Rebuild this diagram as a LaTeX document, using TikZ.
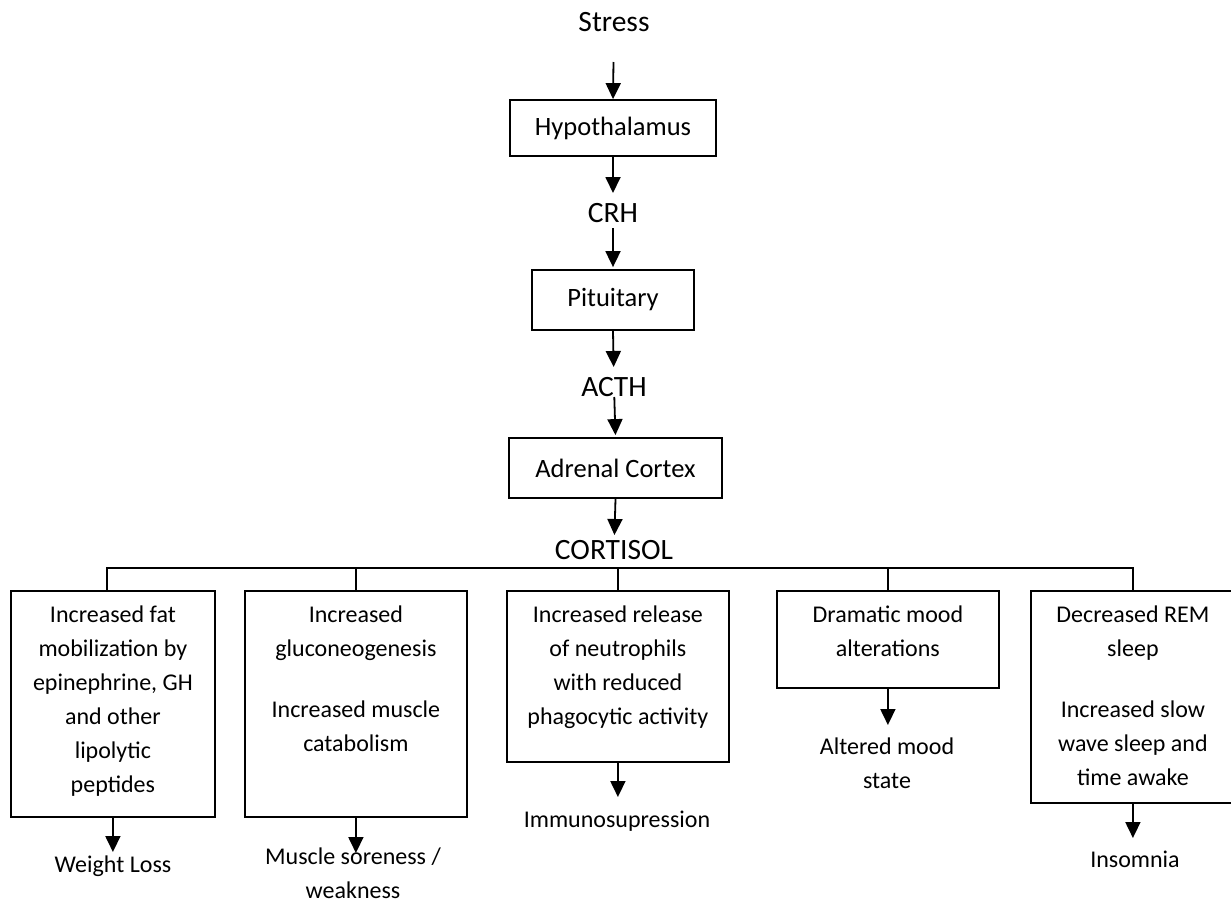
\documentclass[tikz,border=0pt]{standalone}
\usepackage{fontspec}
\setmainfont{Carlito}
\usetikzlibrary{arrows.meta}
\begin{document}
\begin{tikzpicture}[x=1pt,y=-1pt,
  lbl/.style={inner sep=0pt, font=\fontsize{29.5pt}{34pt}\selectfont},
  boxlbl/.style={draw, line width=1.8pt, inner sep=0pt, font=\fontsize{26.5pt}{32pt}\selectfont},
  box/.style={draw, line width=1.8pt, inner sep=0pt, anchor=north west},
  btxt/.style={inner sep=0pt, anchor=north, align=center, font=\fontsize{24pt}{34pt}\selectfont},
  res/.style={inner sep=0pt, align=center, font=\fontsize{24pt}{34pt}\selectfont},
  arr/.style={line width=1.8pt, -{Triangle[length=16pt,width=15pt]}},
  conn/.style={line width=1.8pt}]
\useasboundingbox (0,0) rectangle (1231,903);

% main chain
\node[lbl] (stress) at (614,22) {Stress};
\node[boxlbl, minimum width=206pt, minimum height=56pt] (hyp) at (613,128) {Hypothalamus};
\node[lbl] (crh) at (613,213) {CRH};
\node[boxlbl, minimum width=162pt, minimum height=60pt] (pit) at (613,300) {Pituitary};
\node[lbl] (acth) at (614,387) {ACTH};
\node[boxlbl, minimum width=213pt, minimum height=60pt] (adr) at (615.5,468) {Adrenal Cortex};
\node[lbl] (cort) at (614,550) {CORTISOL};

\draw[arr, shorten <=40pt] (stress.center) -- (hyp.north);
\draw[arr, shorten >=20pt] (hyp.south) -- (crh.center);
\draw[arr, shorten <=15pt, shorten >=2pt] (crh.center) -- (pit.north);
\draw[arr, shorten >=20pt] (pit.south) -- (acth.center);
\draw[arr, shorten <=10pt, shorten >=2pt] (acth.center) -- (adr.north);
\draw[arr, shorten >=15pt] (adr.south) -- (cort.center);

% effect boxes
\node[box, minimum width=204pt, minimum height=226pt] (b1) at (10,590) {};
\node[box, minimum width=222pt, minimum height=226pt] (b2) at (244,590) {};
\node[box, minimum width=222pt, minimum height=171pt] (b3) at (506,590) {};
\node[box, minimum width=222pt, minimum height=97pt] (b4) at (776,590) {};
\node[box, minimum width=204pt, minimum height=212pt] (b5) at (1030,590) {};

\node[btxt] (t1) at ([yshift=-16pt]b1.north) {Increased fat\\mobilization by\\epinephrine, GH\\and other\\lipolytic\\peptides};
\node[btxt] (t2) at ([yshift=-16pt]b2.north) {Increased\\gluconeogenesis\\[27pt]Increased muscle\\catabolism};
\node[btxt] (t3) at ([yshift=-16pt]b3.north) {Increased release\\of neutrophils\\with reduced\\phagocytic activity};
\node[btxt] (t4) at ([yshift=-16pt]b4.north) {Dramatic mood\\alterations};
\node[btxt] (t5) at ([yshift=-16pt]b5.north) {Decreased REM\\sleep\\[27pt]Increased slow\\wave sleep and\\time awake};

% bus
\coordinate (bus) at (0,568);
\draw[conn] ([xshift=-6pt]b1.north) |- (b5.north |- bus) -- (b5.north);
\foreach \b in {b2,b3,b4} \draw[conn] (\b.north) -- (\b.north |- bus);

% results
\node[res] (wl) at (113,866) {Weight Loss};
\node[res] (ms) at (353,873) {Muscle soreness /\\weakness};
\node[res] (imm) at (617,821) {Immunosupression};
\node[res] (alt) at (887,763) {Altered mood\\state};
\node[res] (ins) at (1135,859) {Insomnia};

\draw[arr, shorten >=14pt] (b1.south) -- (b1.south |- wl.center);
\draw[arr, shorten >=20pt] (b2.south) -- (b2.south |- ms.center);
\draw[arr, shorten >=24pt] (b3.south) -- (b3.south |- imm.center);
\draw[arr, shorten >=38pt] (b4.south) -- (b4.south |- alt.center);
\draw[arr, shorten >=21pt] (b5.south) -- (b5.south |- ins.center);
\end{tikzpicture}
\end{document}
